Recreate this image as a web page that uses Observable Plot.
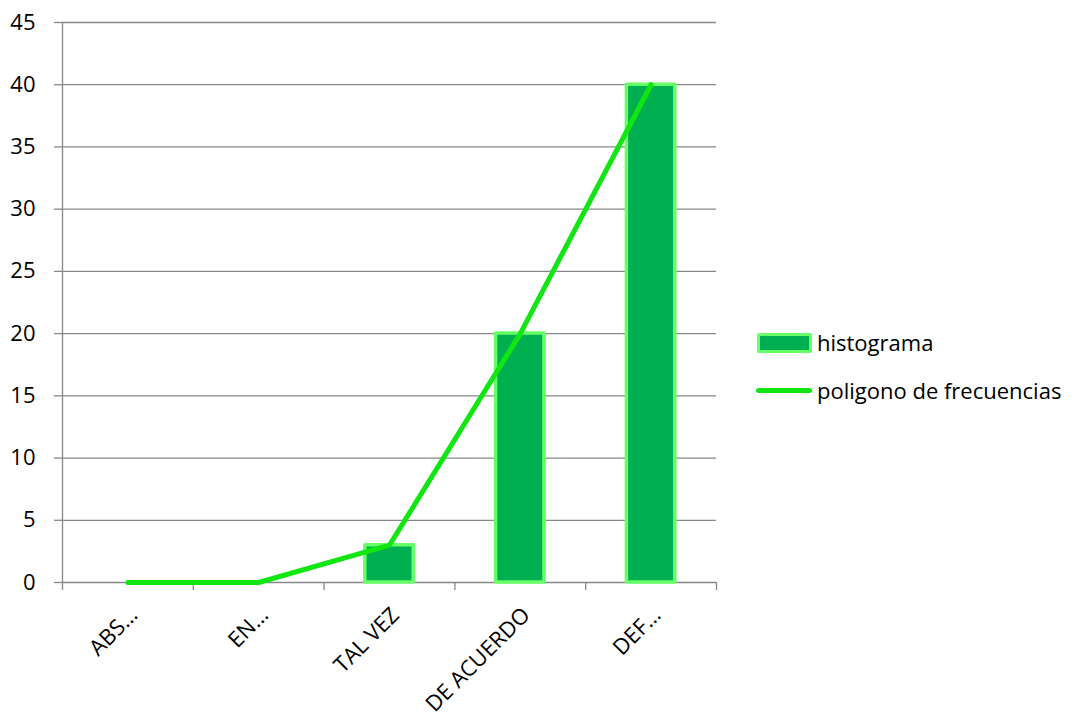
<!DOCTYPE html>
<html><head><meta charset="utf-8">
<script src="https://cdn.jsdelivr.net/npm/d3@7"></script>
<script src="https://cdn.jsdelivr.net/npm/@observablehq/plot@0.6"></script>
<style>
body{margin:0;background:#fff;}
#wrap{position:relative;width:1079px;height:722px;font-family:"Open Sans",sans-serif;}
.leg{position:absolute;left:817px;font-size:22px;line-height:26px;color:#000;white-space:nowrap;}
.sw{position:absolute;box-sizing:border-box;}
</style></head><body>
<div id="wrap"></div>
<script>
const categories = ["ABS…", "EN…", "TAL VEZ", "DE ACUERDO", "DEF…"];
const histograma = [0, 0, 3, 20, 40];
const poligono = [0, 0, 3, 20, 40];
const yTicks = [0, 5, 10, 15, 20, 25, 30, 35, 40, 45];
const seriesNames = ["histograma", "poligono de frecuencias"];

const rows = categories.map((c, i) => ({i, c, h: histograma[i], p: poligono[i]}));
const grid = "#888888";

const chart = Plot.plot({
  width: 1079,
  height: 722,
  marginLeft: 62,
  marginRight: 363,
  marginTop: 22,
  marginBottom: 140,
  style: {fontFamily: "'Open Sans', sans-serif", fontSize: "22px", color: "#000", background: "#fff", overflow: "visible"},
  x: {domain: [0, categories.length]},
  y: {domain: [0, 45]},
  marks: [
    Plot.gridY(yTicks, {stroke: grid, strokeOpacity: 1, strokeWidth: 1.3}),
    Plot.axisY({ticks: yTicks, tickSize: 8, tickPadding: 19, stroke: grid, strokeWidth: 1.3, fill: "#000", fontSize: 22, label: null}),
    Plot.ruleX([0], {y1: 0, y2: 45, stroke: grid, strokeWidth: 1.3}),
    Plot.axisX({ticks: d3.range(0, categories.length + 1), tickFormat: () => "", tickSize: 8, stroke: grid, strokeWidth: 1.3, label: null}),
    Plot.rectY(rows, {x1: d => d.i + 0.315, x2: d => d.i + 0.685, y1: 0, y2: "h", fill: "#00b050", stroke: "#66ff66", strokeWidth: 3.5, strokeLinejoin: "round"}),
    Plot.line(rows, {x: d => d.i + 0.5, y: "p", stroke: "#12e612", strokeWidth: 5, strokeLinejoin: "round", strokeLinecap: "round"}),
    Plot.text(rows, {x: d => d.i + 0.5, frameAnchor: "bottom", text: "c", rotate: -45, textAnchor: "end", lineAnchor: "middle", dx: 6, dy: 29, fontSize: 22, fill: "#000"})
  ]
});
const wrap = document.getElementById("wrap");
wrap.appendChild(chart);

// legend
const sw1 = document.createElement("div");
sw1.className = "sw";
Object.assign(sw1.style, {left: "757px", top: "333px", width: "55px", height: "20px", background: "#00b050", border: "3.5px solid #66ff66", borderRadius: "2px"});
wrap.appendChild(sw1);
const t1 = document.createElement("div");
t1.className = "leg"; t1.style.top = "329px"; t1.textContent = seriesNames[0];
wrap.appendChild(t1);
const sw2 = document.createElement("div");
sw2.className = "sw";
Object.assign(sw2.style, {left: "756px", top: "388px", width: "56px", height: "5px", background: "#12e612", borderRadius: "3px"});
wrap.appendChild(sw2);
const t2 = document.createElement("div");
t2.className = "leg"; t2.style.top = "377px"; t2.textContent = seriesNames[1];
wrap.appendChild(t2);
</script>
</body></html>
